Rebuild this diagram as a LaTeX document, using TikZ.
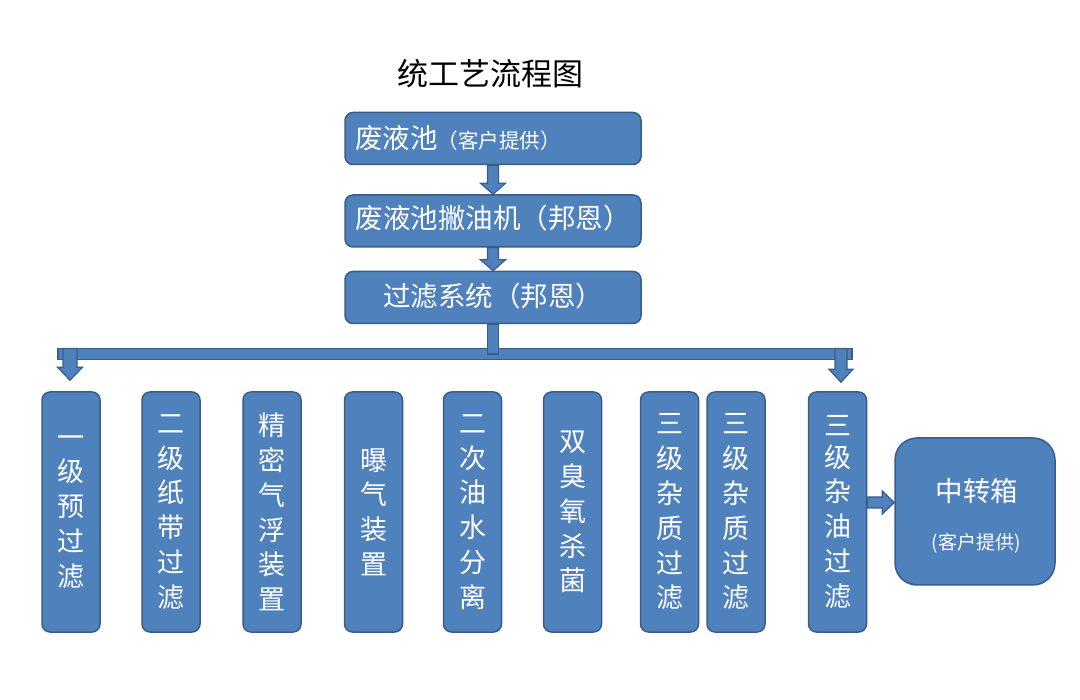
\documentclass[tikz,border=0pt]{standalone}
\usepackage{fontspec}
\setmainfont{Noto Sans CJK SC}
\usetikzlibrary{calc}

\definecolor{boxblue}{HTML}{4F81BD}
\definecolor{boxline}{HTML}{385D8A}

\begin{document}
\begin{tikzpicture}[x=1pt,y=-1pt,
  box/.style={draw=boxline, fill=boxblue, line width=1.5pt, rounded corners=8pt, text=white, inner sep=0pt},
  topbox/.style={box, minimum width=296pt, minimum height=52pt, font=\fontsize{27.5}{30}\selectfont},
  stagebox/.style={box, minimum width=58pt, minimum height=240pt, align=center, font=\fontsize{27}{34.8}\selectfont},
  blockarrow/.style={draw=boxline, fill=boxblue, line width=1.2pt, line join=miter}]

\useasboundingbox (0,0) rectangle (1080,700);

\node (title) at (490,74) {\fontsize{31}{34}\selectfont 统工艺流程图};

\node[topbox, text width=276pt, align=left] (pool) at (493,138.5)
  {\raisebox{3pt}{废液池{\fontsize{20.5}{24}\selectfont （客户提供）}}};
\node[topbox] (skim) at (493,221) {\raisebox{9pt}{废液池撇油机（邦恩）}};
\node[topbox] (filt) at (493,297.5) {\raisebox{6pt}{过滤系统（邦恩）}};

\node[stagebox] (g1) at (71,512) {一\\级\\预\\过\\滤};
\node[stagebox] (g2) at (171,512) {二\\级\\纸\\带\\过\\滤};
\node[stagebox] (g3) at (272,512) {精\\密\\气\\浮\\装\\置};
\node[stagebox] (g4) at (373.5,512) {曝\\气\\装\\置};
\node[stagebox] (g5) at (472.5,512) {二\\次\\油\\水\\分\\离};
\node[stagebox] (g6) at (572.5,512) {双\\臭\\氧\\杀\\菌};
\node[stagebox] (g7) at (669.5,512) {三\\级\\杂\\质\\过\\滤};
\node[stagebox] (g8) at (736,512) {三\\级\\杂\\质\\过\\滤};
\node[stagebox] (g9) at (837.5,512) {\raisebox{-3pt}{三}\\级\\杂\\油\\过\\滤};

\node[box, rounded corners=22pt, minimum width=160pt, minimum height=147pt] (tank) at (975,511.5) {};
\node[text=white] (tanktitle) at (977,491) {\fontsize{27.5}{30}\selectfont 中转箱};
\node[text=white] (tanknote) at (976,543) {\fontsize{19}{22}\selectfont (客户提供)};

% arrows between the top boxes
\draw[blockarrow] ($(pool.south)+(-5.5,0)$) -- ($(skim.north)+(-5.5,-11)$) -- ($(skim.north)+(-12.5,-11)$)
  -- (skim.north) -- ($(skim.north)+(12.5,-11)$) -- ($(skim.north)+(5.5,-11)$) -- ($(pool.south)+(5.5,0)$) -- cycle;
\draw[blockarrow] ($(skim.south)+(-5.5,0)$) -- ($(filt.north)+(-5.5,-11)$) -- ($(filt.north)+(-12.5,-11)$)
  -- (filt.north) -- ($(filt.north)+(12.5,-11)$) -- ($(filt.north)+(5.5,-11)$) -- ($(skim.south)+(5.5,0)$) -- cycle;

% bus
\coordinate (busL) at (58,354);
\coordinate (busR) at (852,354);
\draw[blockarrow] ($(busL)+(0,-5.5)$) rectangle ($(busR)+(0,5.5)$);
\draw[blockarrow] ($(filt.south)+(-5.5,0)$) rectangle ($(filt.south |- busL)+(5.5,0)$);

\coordinate (dropL) at ($(busL)+(12,-5.5)$);
\coordinate (tipL) at ($(dropL |- g1.north)+(0,-11)$);
\draw[blockarrow] ($(dropL)+(-7,0)$) -- ($(tipL)+(-7,-13)$) -- ($(tipL)+(-12.5,-13)$)
  -- (tipL) -- ($(tipL)+(12.5,-13)$) -- ($(tipL)+(7,-13)$) -- ($(dropL)+(7,0)$) -- cycle;

\coordinate (dropR) at ($(busR)+(-11,-5.5)$);
\coordinate (tipR) at ($(dropR |- g9.north)+(0,-9)$);
\draw[blockarrow] ($(dropR)+(-6,0)$) -- ($(tipR)+(-6,-13)$) -- ($(tipR)+(-12,-13)$)
  -- (tipR) -- ($(tipR)+(12,-13)$) -- ($(tipR)+(6,-13)$) -- ($(dropR)+(6,0)$) -- cycle;

% to the tank
\coordinate (rA) at ($(g9.east)+(0,-9.5)$);
\coordinate (rB) at (rA -| tank.west);
\draw[blockarrow] ($(rA)+(0,-5.5)$) -- ($(rB)+(-12,-5.5)$) -- ($(rB)+(-12,-11.5)$)
  -- (rB) -- ($(rB)+(-12,11.5)$) -- ($(rB)+(-12,5.5)$) -- ($(rA)+(0,5.5)$) -- cycle;

\end{tikzpicture}
\end{document}
